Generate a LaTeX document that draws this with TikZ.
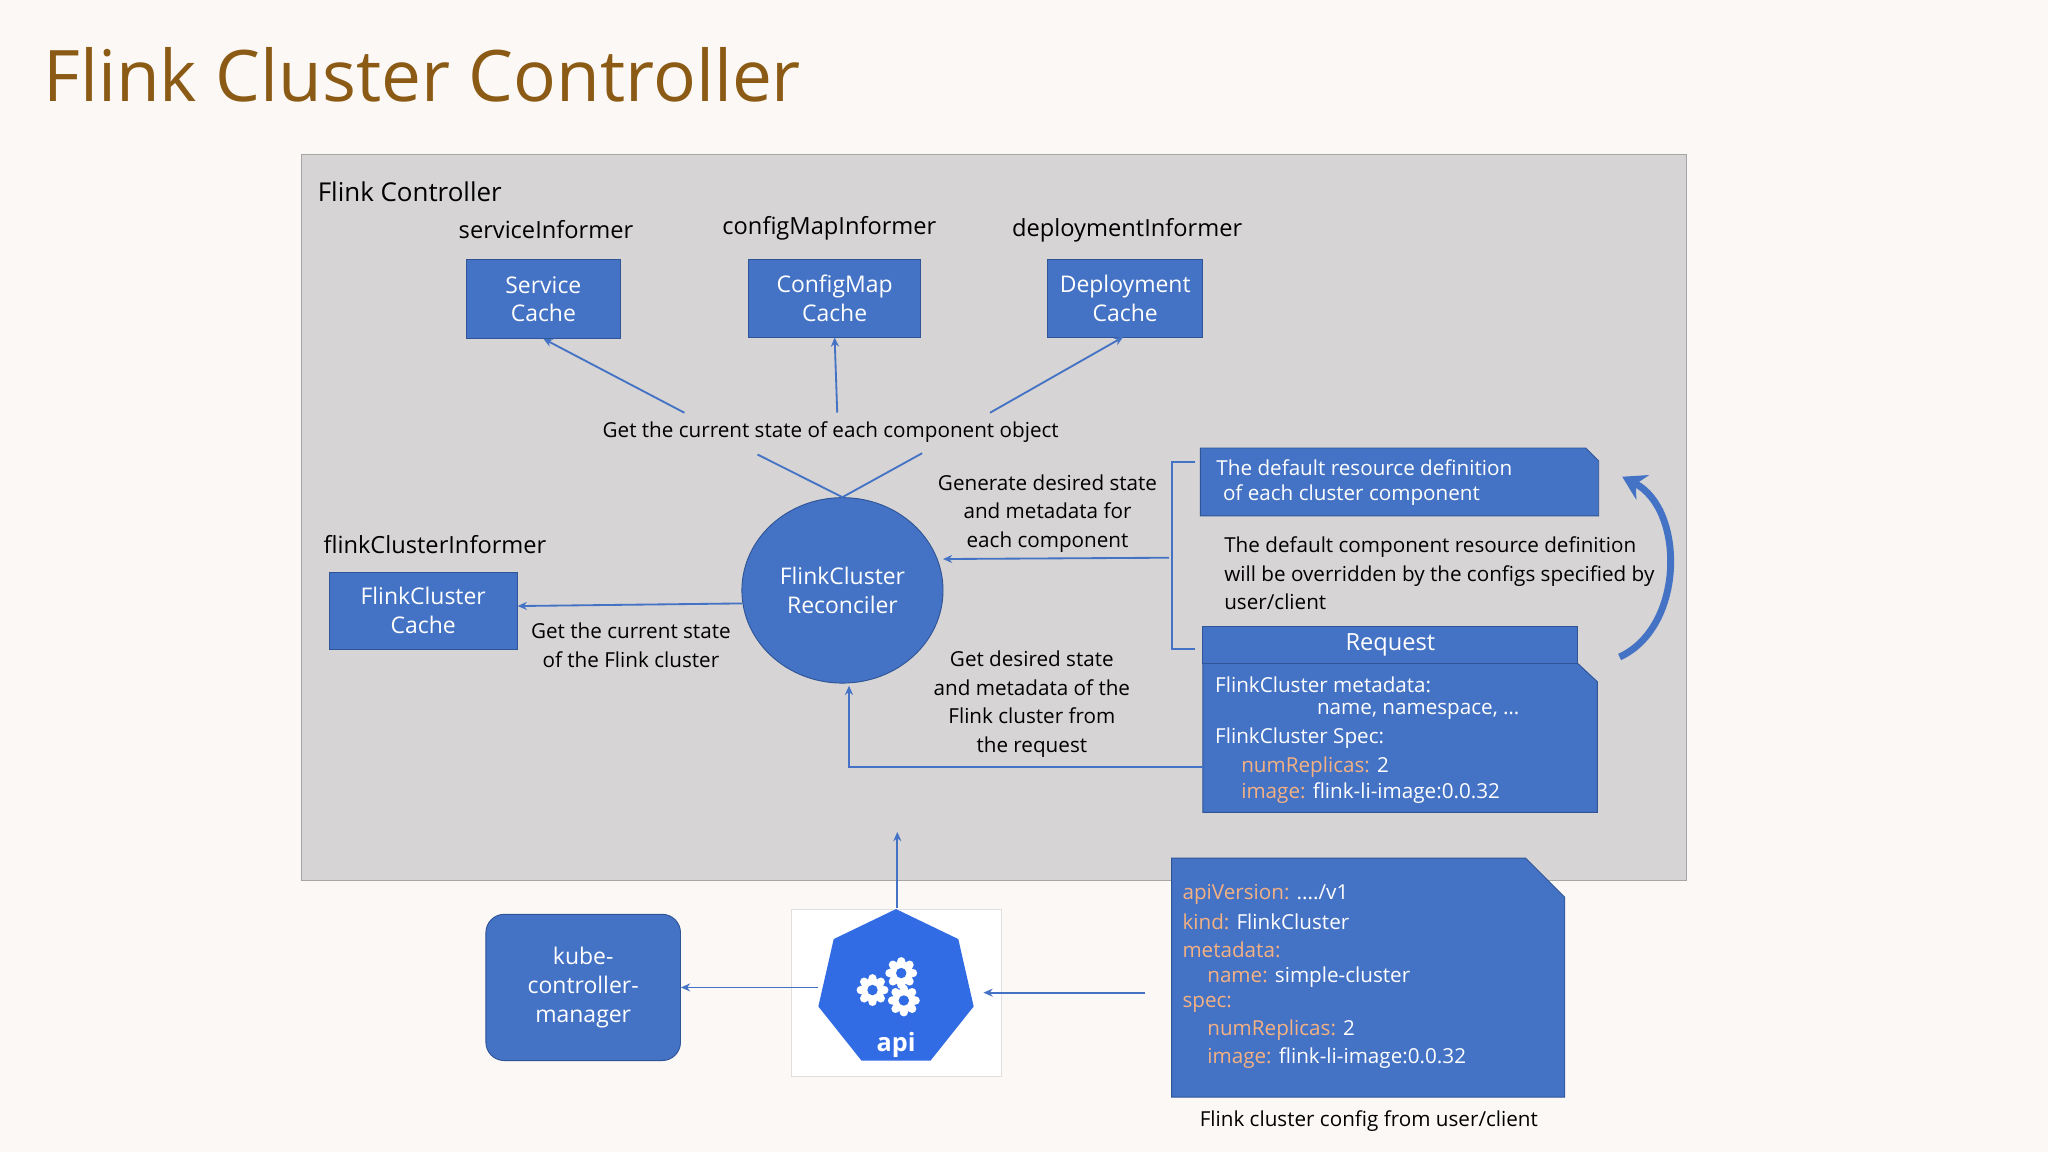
\documentclass[tikz,border=0pt]{standalone}
\usepackage{fontspec}
\setmainfont{Open Sans}
\usetikzlibrary{shapes.geometric,arrows.meta}
\definecolor{bg}{HTML}{FBF8F5}
\definecolor{panel}{HTML}{D6D4D4}
\definecolor{blu}{HTML}{4472C4}
\definecolor{bdr}{HTML}{2F5597}
\definecolor{ttl}{HTML}{8B5A14}
\definecolor{org}{HTML}{F4B183}
\definecolor{kblue}{HTML}{326CE5}
\begin{document}
\begin{tikzpicture}[x=0.02cm,y=-0.02cm,
 box/.style={draw=bdr,fill=blu,text=white,font=\fontsize{10}{12.5}\selectfont,align=center,inner sep=0pt},
 lbl/.style={font=\fontsize{10.3}{13}\selectfont,inner sep=0pt},
 txt/.style={font=\fontsize{9}{12.4}\selectfont,align=center,inner sep=0pt},
 ln/.style={draw=blu,line width=0.8pt},
 arr/.style={ln,-{Stealth[length=4pt,width=3.5pt]}},
 wt/.style={text=white,font=\fontsize{9}{12}\selectfont,anchor=west,inner sep=0pt}]
\fill[bg] (0,0) rectangle (1568,882);
\node[anchor=west,text=ttl,font=\fontsize{31}{36}\selectfont,inner sep=0pt] (title) at (33,57) {Flink Cluster Controller};
\draw[fill=panel,draw=gray!70] (231,118) rectangle (1291,674);
\node[lbl,anchor=west,font=\fontsize{11.3}{14}\selectfont] (fc) at (243,147) {Flink Controller};
\node[lbl] (si) at (418,176) {serviceInformer};
\node[lbl] (ci) at (635,175) {configMapInformer};
\node[lbl] (di) at (863,176) {deploymentInformer};
\node[box,minimum width=118*0.02cm,minimum height=60*0.02cm] (sc) at (416,229) {Service\\Cache};
\node[box,minimum width=132*0.02cm,minimum height=59*0.02cm] (cc) at (639,228.5) {ConfigMap\\Cache};
\node[box,minimum width=119*0.02cm,minimum height=59*0.02cm] (dc) at (861.5,228.5) {Deployment\\Cache};
\node[txt] (gcs) at (636,331) {Get the current state of each component object};
\coordinate (a1) at (524,316); \coordinate (a2) at (641,316); \coordinate (a3) at (758,316);
\draw[arr] (a1) -- (sc.south); \draw[arr] (a2) -- (cc.south); \draw[arr] (a3) -- (860,258);
\node[ellipse,draw=bdr,fill=blu,text=white,minimum width=154*0.02cm,minimum height=142*0.02cm,font=\fontsize{10}{12.5}\selectfont,align=center,inner sep=0pt] (rec) at (645,452) {FlinkCluster\\Reconciler};
\coordinate (b1) at (580,348); \coordinate (b2) at (706,347);
\draw[ln] (b1) -- (rec.north) -- (b2);
\node[lbl] (fi) at (333,417) {flinkClusterInformer};
\node[box,minimum width=144*0.02cm,minimum height=59*0.02cm] (fcc) at (324,467.5) {FlinkCluster\\Cache};
\coordinate (r1) at (568,462);
\draw[arr] (r1) -- (fcc.east |- 0,464);
\node[txt] (t1) at (483,494) {Get the current state\\of the Flink cluster};
\node[txt] (t2) at (802,393) {Generate desired state\\and metadata for\\each component};
\coordinate (br) at (895,427); \coordinate (rc) at (722,428);
\draw[arr] (br) -- (rc);
\draw[ln] (915,354) -- (897,354) -- (897,497) -- (915,497);
\fill[blu,draw=bdr] (919,343) -- (1214,343) -- (1224,353) -- (1224,395) -- (919,395) -- cycle;
\node[wt] (d1) at (931,358) {The default resource definition};
\node[wt] (d2) at (936,379) {of each cluster component};
\node[txt,align=left,anchor=west] (ov) at (937,439) {The default component resource definition\\will be overridden by the configs specified by\\user/client};
\coordinate (c1) at (1240,503); \coordinate (c2) at (1242,365);
\draw[blu,line width=3pt,-{Stealth[length=10pt,width=12pt]}] (c1) .. controls (1290,480) and (1290,390) .. (c2);
\node[box,minimum width=287*0.02cm,minimum height=28*0.02cm,font=\fontsize{10.3}{12}\selectfont] (req) at (1064.5,494) {Request};
\fill[blu,draw=bdr] (921,508) -- (1208,508) -- (1223,522) -- (1223,622) -- (921,622) -- cycle;
\node[wt] (q1) at (930,524) {FlinkCluster metadata:};
\node[wt] (q2) at (1008,545) {name, namespace, \dots};
\node[wt] (q3) at (930,565) {FlinkCluster Spec:};
\node[wt] (q4) at (950,587) {\textcolor{org}{numReplicas:} 2};
\node[wt] (q5) at (950,607) {\textcolor{org}{image:} flink-li-image:0.0.32};
\node[txt] (t3) at (790,539) {Get desired state\\and metadata of the\\Flink cluster from\\the request};
\coordinate (rq) at (921,587);
\draw[arr] (rq) -- (650,587) -- (650,525);
% bottom
\node[draw=gray!25,fill=white,minimum width=161*0.02cm,minimum height=128*0.02cm,inner sep=0pt] (api) at (686.5,760) {};
\node[regular polygon,regular polygon sides=7,fill=kblue,minimum size=122*0.02cm,inner sep=0pt] (hep) at (686,757) {};
\foreach \c/\r in {{(690,745)}/9,{(668,758)}/9,{(692,766)}/9}{
 \fill[white] \c circle (\r);
 \foreach \a in {0,45,...,315} \fill[white] \c ++(\a:\r) circle (3.2);
 \fill[kblue] \c circle (4);}
\node[text=white,font=\bfseries\fontsize{11}{12}\selectfont,inner sep=0pt] (apit) at (686,800) {api};
\coordinate (ap) at (687,695); \coordinate (pb) at (687,637);
\draw[arr] (ap) -- (pb);
\node[box,rounded corners=8pt,minimum width=149*0.02cm,minimum height=112*0.02cm] (kcm) at (446.5,756) {kube-\\controller-\\manager};
\coordinate (al) at (626,756);
\draw[arr] (al) -- (kcm.east |- 0,756);
\coordinate (ya) at (877,760); \coordinate (ar) at (753,760);
\draw[arr] (ya) -- (ar);
\fill[blu,draw=bdr] (897,657) -- (1168,657) -- (1198,687) -- (1198,840) -- (897,840) -- cycle;
\node[wt] (y1) at (905,685) {\textcolor{org}{apiVersion:} ..../v1};
\node[wt] (y2) at (905,706) {\textcolor{org}{kind:} FlinkCluster};
\node[wt] (y3) at (905,727) {\textcolor{org}{metadata:}};
\node[wt] (y4) at (924,748) {\textcolor{org}{name:} simple-cluster};
\node[wt] (y5) at (905,769) {\textcolor{org}{spec:}};
\node[wt] (y6) at (924,789) {\textcolor{org}{numReplicas:} 2};
\node[wt] (y7) at (924,810) {\textcolor{org}{image:} flink-li-image:0.0.32};
\node[txt] (cap) at (1048,858) {Flink cluster config from user/client};
\end{tikzpicture}
\end{document}
